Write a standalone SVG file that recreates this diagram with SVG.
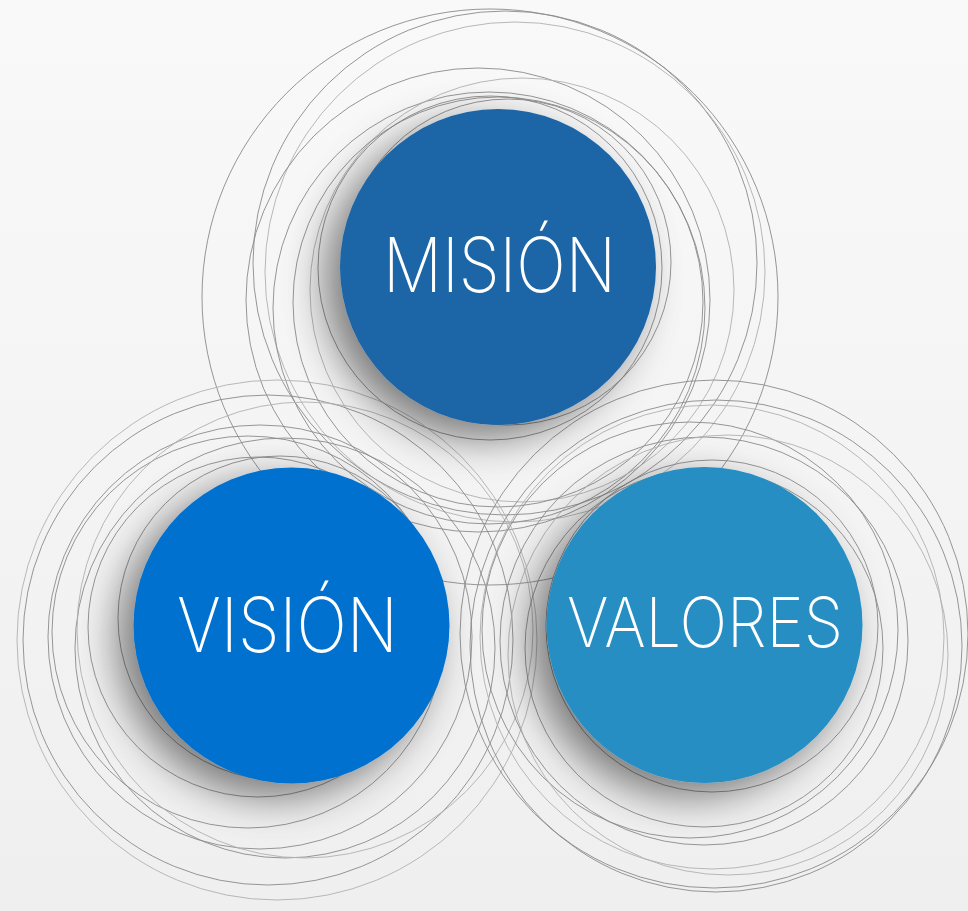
<svg xmlns="http://www.w3.org/2000/svg" width="968" height="911" viewBox="0 0 968 911">
  <defs>
    <linearGradient id="bg" x1="0" y1="0" x2="0" y2="1">
      <stop offset="0" stop-color="#f9f9f9"/>
      <stop offset="1" stop-color="#efefef"/>
    </linearGradient>
    <filter id="shadow" x="-50%" y="-50%" width="200%" height="200%">
      <feGaussianBlur in="SourceAlpha" stdDeviation="20"/>
      <feOffset dx="-16" dy="14" result="b"/>
      <feFlood flood-color="#000" flood-opacity="0.5"/>
      <feComposite in2="b" operator="in"/>
      <feMerge>
        <feMergeNode/>
        <feMergeNode in="SourceGraphic"/>
      </feMerge>
    </filter>
    <style>
      .ring { fill: none; stroke: #8a8a8a; stroke-width: 0.9; }
      .ring.l { stroke: #b0b0b0; }
      .lbl { fill: #ffffff; font-family: Inter, "Open Sans", Lato, "Liberation Sans", sans-serif; font-weight: 200; }
    </style>
  </defs>
  <rect width="968" height="911" fill="url(#bg)"/>

  <g id="rings">
    <g id="rings-mision">
      <circle class="ring" cx="490" cy="297" r="288"/>
      <circle class="ring" cx="505" cy="263" r="252"/>
      <circle class="ring l" cx="515" cy="272" r="250"/>
      <circle class="ring" cx="478" cy="300" r="232"/>
      <circle class="ring" cx="489" cy="308" r="216"/>
      <circle class="ring l" cx="522" cy="290" r="212"/>
      <circle class="ring" cx="498" cy="302" r="205"/>
      <circle class="ring" cx="490" cy="268" r="172"/>
      <circle class="ring" cx="508" cy="262" r="163"/>
    </g>
    <g id="rings-vision">
      <circle class="ring l" cx="277" cy="640" r="260"/>
      <circle class="ring" cx="268" cy="640" r="245"/>
      <circle class="ring" cx="260" cy="637" r="212"/>
      <circle class="ring" cx="248" cy="632" r="196"/>
      <circle class="ring" cx="285" cy="648" r="210"/>
      <circle class="ring" cx="258" cy="627" r="170"/>
      <circle class="ring" cx="280" cy="618" r="162"/>
      <circle class="ring l" cx="305" cy="630" r="228"/>
    </g>
    <g id="rings-valores">
      <circle class="ring" cx="714" cy="634" r="254"/>
      <circle class="ring" cx="716" cy="646" r="246"/>
      <circle class="ring l" cx="712" cy="637" r="232"/>
      <circle class="ring" cx="704" cy="641" r="204"/>
      <circle class="ring" cx="690" cy="630" r="208"/>
      <circle class="ring" cx="704" cy="648" r="179"/>
      <circle class="ring" cx="712" cy="626" r="166"/>
      <circle class="ring l" cx="728" cy="655" r="220"/>
    </g>
  </g>

  <g id="mision">
    <circle cx="498" cy="267" r="158" fill="#1f65a6" filter="url(#shadow)"/>
    <text class="lbl" x="383" y="292" font-size="76" textLength="233" lengthAdjust="spacingAndGlyphs">MISIÓN</text>
  </g>
  <g id="vision">
    <circle cx="291.5" cy="625.5" r="158" fill="#0071ce" filter="url(#shadow)"/>
    <text class="lbl" x="177" y="652" font-size="76" textLength="221" lengthAdjust="spacingAndGlyphs">VISIÓN</text>
  </g>
  <g id="valores">
    <circle cx="704.5" cy="625" r="158" fill="#288ec2" filter="url(#shadow)"/>
    <text class="lbl" x="567" y="647" font-size="69" textLength="276" lengthAdjust="spacingAndGlyphs">VALORES</text>
  </g>
</svg>
